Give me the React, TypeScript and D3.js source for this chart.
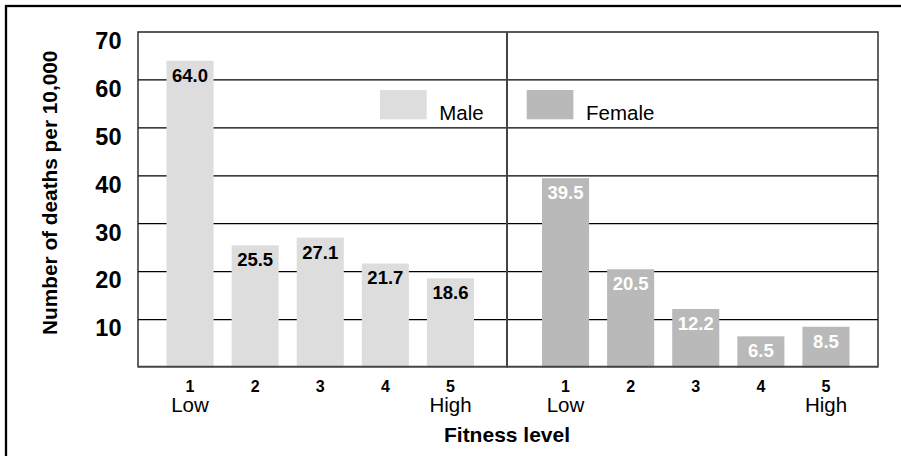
import React, { useEffect, useRef } from 'react';
import * as d3 from 'd3';

const levels = ['1', '2', '3', '4', '5'];
const levelNotes = ['Low', '', '', '', 'High'];
const maleDeaths = [64.0, 25.5, 27.1, 21.7, 18.6];
const femaleDeaths = [39.5, 20.5, 12.2, 6.5, 8.5];
const yTicks = [10, 20, 30, 40, 50, 60, 70];
const seriesNames = ['Male', 'Female'];

const width = 901;
const height = 456;
const font = 'Liberation Sans, Arial, Helvetica, sans-serif';
const maleColor = '#dddddd';
const femaleColor = '#b9b9b9';

const App: React.FC = () => {
  const svgRef = useRef<SVGSVGElement>(null);

  useEffect(() => {
    if (!svgRef.current) return;
    d3.select(svgRef.current).selectAll('*').remove();
    const svg = d3.select(svgRef.current);

    const plot = { left: 138, right: 878, top: 32, bottom: 367.5 };
    const divider = 507;

    const yScale = d3.scaleLinear().domain([0, 70]).range([plot.bottom, plot.top]);

    const xMale = d3.scaleBand().domain(levels).range([166.5, 474]).paddingInner(0.277).paddingOuter(0);
    const xFemale = d3.scaleBand().domain(levels).range([542, 849.5]).paddingInner(0.277).paddingOuter(0);

    // outer frame (right and bottom edges fall off the page)
    svg.append('rect')
      .attr('x', 6).attr('y', 6)
      .attr('width', 1200).attr('height', 1200)
      .attr('fill', 'none').attr('stroke', '#000').attr('stroke-width', 2.3);

    // gridlines
    svg.append('g')
      .selectAll('line')
      .data(yTicks.filter((t) => t < 70))
      .join('line')
      .attr('x1', plot.left).attr('x2', plot.right)
      .attr('y1', (d) => yScale(d)).attr('y2', (d) => yScale(d))
      .attr('stroke', '#000').attr('stroke-width', 1.3);

    // plot frame
    svg.append('path')
      .attr('d', `M${plot.left},${plot.bottom}V${plot.top}H${plot.right}V${plot.bottom}`)
      .attr('fill', 'none').attr('stroke', '#222').attr('stroke-width', 1.4);

    const drawPanel = (
      values: number[],
      x: d3.ScaleBand<string>,
      color: string,
      labelColor: string,
    ) => {
      const g = svg.append('g');
      g.selectAll('rect')
        .data(values)
        .join('rect')
        .attr('x', (_, i) => x(levels[i]) as number)
        .attr('y', (d) => yScale(d))
        .attr('width', x.bandwidth())
        .attr('height', (d) => plot.bottom - yScale(d))
        .attr('fill', color);

      g.selectAll('text.value')
        .data(values)
        .join('text')
        .attr('class', 'value')
        .attr('x', (_, i) => (x(levels[i]) as number) + x.bandwidth() / 2)
        .attr('y', (d) => yScale(d) + 21)
        .attr('text-anchor', 'middle')
        .attr('font-family', font)
        .attr('font-weight', 'bold')
        .attr('font-size', 18.5)
        .attr('fill', labelColor)
        .text((d) => d.toFixed(1));

      g.selectAll('text.level')
        .data(levels)
        .join('text')
        .attr('class', 'level')
        .attr('x', (d) => (x(d) as number) + x.bandwidth() / 2)
        .attr('y', 391.7)
        .attr('text-anchor', 'middle')
        .attr('font-family', font)
        .attr('font-weight', 'bold')
        .attr('font-size', 16)
        .attr('fill', '#000')
        .text((d) => d);

      g.selectAll('text.note')
        .data(levelNotes)
        .join('text')
        .attr('class', 'note')
        .attr('x', (_, i) => (x(levels[i]) as number) + x.bandwidth() / 2)
        .attr('y', 412.3)
        .attr('text-anchor', 'middle')
        .attr('font-family', font)
        .attr('font-size', 20.5)
        .attr('fill', '#000')
        .text((d) => d);
    };

    drawPanel(maleDeaths, xMale, maleColor, '#000');
    drawPanel(femaleDeaths, xFemale, femaleColor, '#fff');

    // bottom axis line and divider
    svg.append('line')
      .attr('x1', plot.left).attr('x2', plot.right)
      .attr('y1', plot.bottom - 0.8).attr('y2', plot.bottom - 0.8)
      .attr('stroke', '#444').attr('stroke-width', 2);
    svg.append('line')
      .attr('x1', divider).attr('x2', divider)
      .attr('y1', plot.top).attr('y2', plot.bottom)
      .attr('stroke', '#444').attr('stroke-width', 2);

    // y tick labels (top aligned to their gridline)
    svg.append('g')
      .selectAll('text')
      .data(yTicks)
      .join('text')
      .attr('x', 121.5)
      .attr('y', (d) => yScale(d) + 16.8)
      .attr('text-anchor', 'end')
      .attr('font-family', font)
      .attr('font-weight', 'bold')
      .attr('font-size', 23.5)
      .attr('fill', '#000')
      .text((d) => d);

    // axis titles
    svg.append('text')
      .attr('transform', 'translate(57.3,192.8) rotate(-90)')
      .attr('text-anchor', 'middle')
      .attr('font-family', font)
      .attr('font-weight', 'bold')
      .attr('font-size', 20.8)
      .attr('fill', '#000')
      .text('Number of deaths per 10,000');

    svg.append('text')
      .attr('x', divider)
      .attr('y', 442)
      .attr('text-anchor', 'middle')
      .attr('font-family', font)
      .attr('font-weight', 'bold')
      .attr('font-size', 21)
      .attr('fill', '#000')
      .text('Fitness level');

    // legend
    const legendX = [380, 526.7];
    const legend = svg.append('g')
      .selectAll('g')
      .data(seriesNames)
      .join('g')
      .attr('transform', (_, i) => `translate(${legendX[i]},90)`);
    legend.append('rect')
      .attr('width', 46.7).attr('height', 29.3)
      .attr('fill', (_, i) => (i === 0 ? maleColor : femaleColor));
    legend.append('text')
      .attr('x', 59.3).attr('y', 30)
      .attr('font-family', font)
      .attr('font-size', 20.5)
      .attr('fill', '#000')
      .text((d) => d);
  }, []);

  return (
    <svg
      ref={svgRef}
      width={width}
      height={height}
      style={{ position: 'absolute', left: 0, top: 0, background: '#fff' }}
    />
  );
};

export default App;
